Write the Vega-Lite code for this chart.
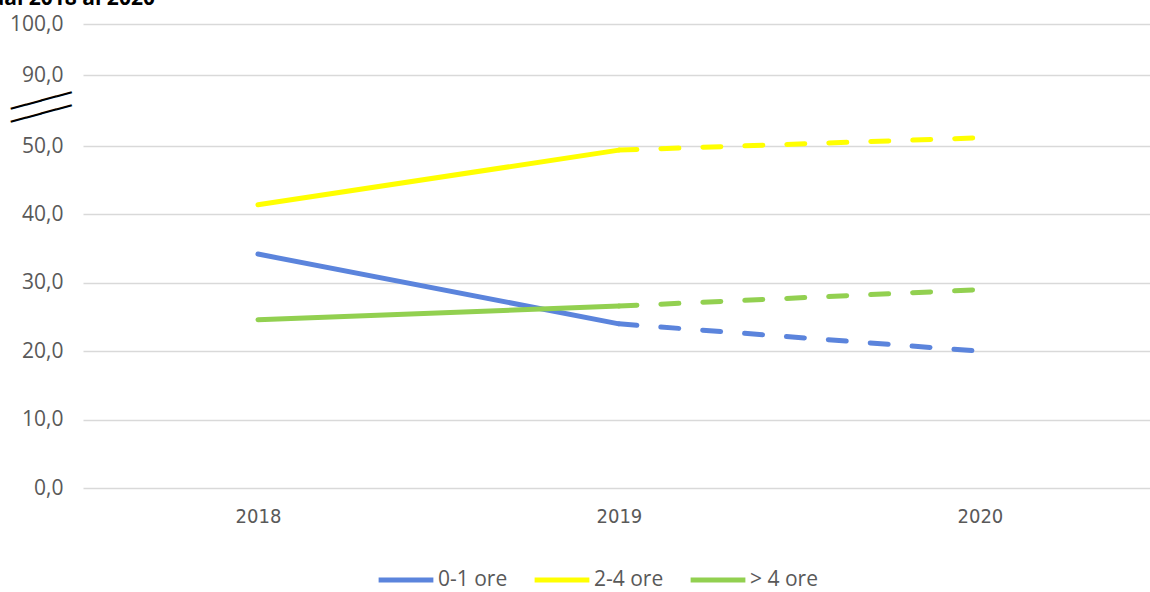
{
  "$schema": "https://vega.github.io/schema/vega-lite/v6.json",
  "autosize": {"type": "none"},
  "padding": {"left": 83, "top": 24, "right": 0, "bottom": 104},
  "width": 1067,
  "height": 464,
  "background": "white",
  "title": {
    "text": "dal 2018 al 2020",
    "anchor": "start",
    "frame": "group",
    "font": "Open Sans",
    "fontSize": 21,
    "fontWeight": "bold",
    "color": "#000000",
    "baseline": "alphabetic",
    "offset": 0,
    "dx": -92,
    "dy": 13
  },
  "data": {
    "values": [
      {"year": "2018", "series": "0-1 ore", "seg": "a", "value": 34.2},
      {"year": "2019", "series": "0-1 ore", "seg": "a", "value": 24.0},
      {"year": "2019", "series": "0-1 ore", "seg": "b", "value": 24.0},
      {"year": "2020", "series": "0-1 ore", "seg": "b", "value": 20.0},
      {"year": "2018", "series": "2-4 ore", "seg": "a", "value": 41.4},
      {"year": "2019", "series": "2-4 ore", "seg": "a", "value": 49.4},
      {"year": "2019", "series": "2-4 ore", "seg": "b", "value": 49.4},
      {"year": "2020", "series": "2-4 ore", "seg": "b", "value": 51.2},
      {"year": "2018", "series": "> 4 ore", "seg": "a", "value": 24.6},
      {"year": "2019", "series": "> 4 ore", "seg": "a", "value": 26.6},
      {"year": "2019", "series": "> 4 ore", "seg": "b", "value": 26.6},
      {"year": "2020", "series": "> 4 ore", "seg": "b", "value": 29.0}
    ]
  },
  "encoding": {
    "x": {
      "field": "year",
      "type": "ordinal",
      "scale": {"type": "point", "padding": 0.478, "align": 0.507},
      "axis": {
        "title": null,
        "domain": false,
        "ticks": false,
        "grid": false,
        "labelAngle": 0,
        "labelFont": "'DejaVu Sans Condensed', 'Liberation Sans', sans-serif",
        "labelFontSize": 20,
        "labelColor": "#595959",
        "labelPadding": 18
      }
    },
    "y": {
      "field": "value",
      "type": "quantitative",
      "scale": {"domain": [0, 60, 90, 100], "range": [464, 53.6, 51, 0], "nice": false, "zero": false},
      "axis": {
        "title": null,
        "domain": false,
        "ticks": false,
        "labelOverlap": false,
        "labelFlush": false,
        "values": [0, 10, 20, 30, 40, 50, 54.7, 56.6, 90, 100],
        "labelExpr": "(datum.value == 54.7 || datum.value == 56.6) ? '────' : replace(format(datum.value, '.1f'), '.', ',')",
        "labelFont": {"condition": {"test": "datum.value == 54.7 || datum.value == 56.6", "value": "DejaVu Sans"}, "value": "Open Sans"},
        "labelFontSize": {"condition": {"test": "datum.value == 54.7 || datum.value == 56.6", "value": 26}, "value": 21},
        "labelColor": {"condition": {"test": "datum.value == 54.7 || datum.value == 56.6", "value": "#000000"}, "value": "#595959"},
        "labelAlign": {"condition": {"test": "datum.value == 54.7 || datum.value == 56.6", "value": "center"}, "value": "right"},
        "labelPadding": {"condition": {"test": "datum.value == 54.7 || datum.value == 56.6", "value": 42}, "value": 20},
        "labelBaseline": "middle",
        "labelAngle": {"expr": "(datum.value == 54.7 || datum.value == 56.6) ? -15 : 0"},
        "gridColor": "#d9d9d9",
        "gridWidth": 1.5,
        "gridOpacity": {"condition": {"test": "datum.value == 54.7 || datum.value == 56.6", "value": 0}, "value": 1}
      }
    },
    "color": {
      "field": "series",
      "type": "nominal",
      "scale": {"domain": ["0-1 ore", "2-4 ore", "> 4 ore"], "range": ["#5b84dc", "#ffff00", "#92d050"]},
      "legend": {
        "title": null,
        "orient": "none",
        "legendX": 293,
        "legendY": 526,
        "direction": "horizontal",
        "symbolType": "stroke",
        "symbolSize": 3000,
        "symbolStrokeWidth": 5,
        "labelFont": "Open Sans",
        "labelFontSize": 21,
        "labelColor": "#595959",
        "labelOffset": 2,
        "columnPadding": 16
      }
    },
    "detail": {"field": "seg"}
  },
  "layer": [
    {
      "transform": [{"filter": "datum.seg == 'a'"}],
      "mark": {"type": "line", "strokeWidth": 5, "strokeCap": "round", "strokeJoin": "round"}
    },
    {
      "transform": [{"filter": "datum.seg == 'b'"}],
      "mark": {"type": "line", "strokeWidth": 5, "strokeCap": "round", "strokeJoin": "round", "strokeDash": [18, 24]}
    }
  ],
  "config": {
    "view": {"stroke": null}
  }
}
